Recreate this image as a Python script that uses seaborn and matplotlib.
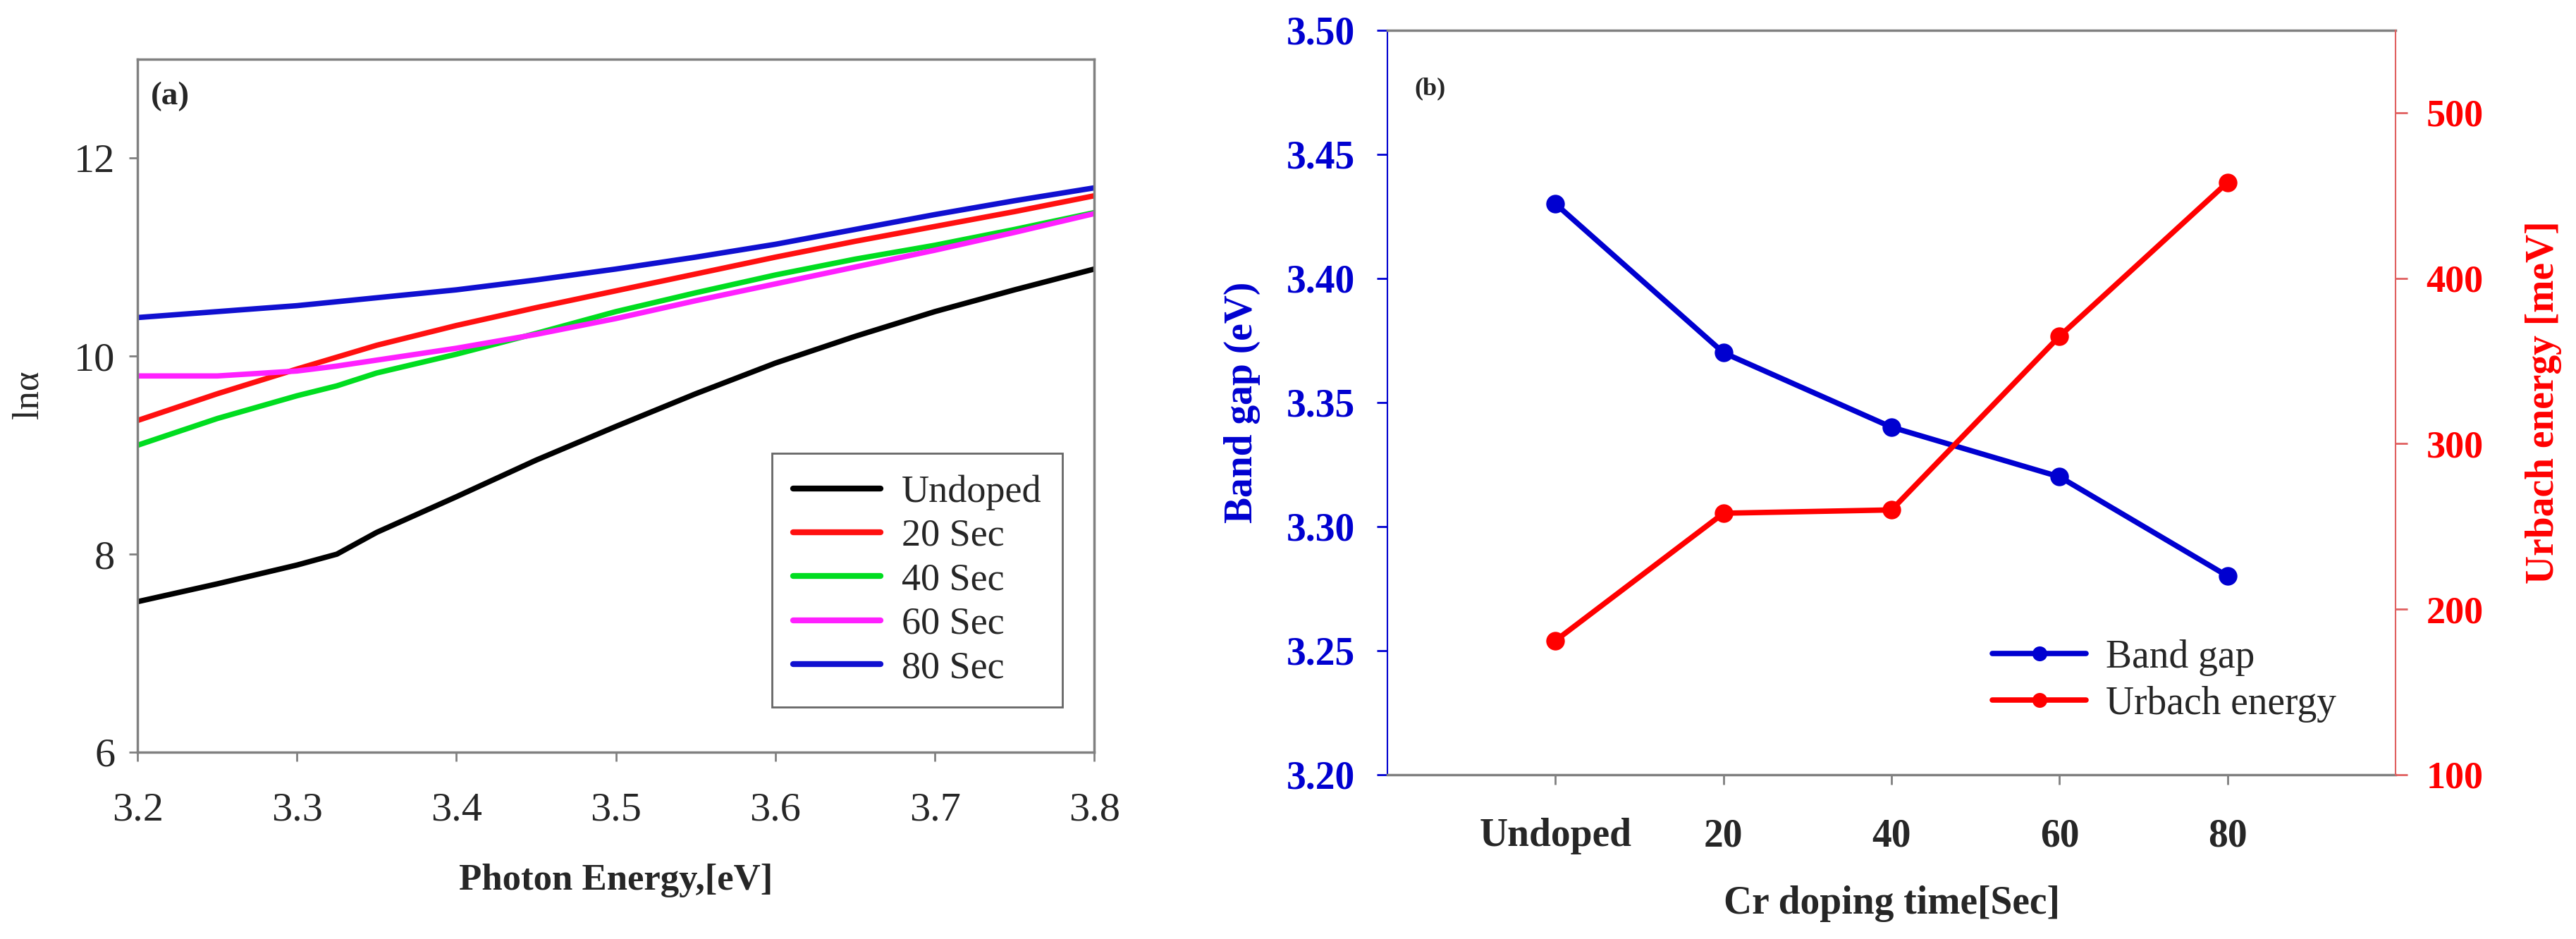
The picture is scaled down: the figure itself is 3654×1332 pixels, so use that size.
import numpy as np
import matplotlib
matplotlib.use('Agg')
import matplotlib.pyplot as plt
import pandas as pd
import seaborn as sns

# (a) ln(alpha) contro energia del fotone
energy = [3.20, 3.25, 3.30, 3.325, 3.35, 3.40, 3.45, 3.50, 3.55, 3.60, 3.65, 3.70, 3.75, 3.80]
ln_undoped = [7.52, 7.70, 7.89, 8.00, 8.22, 8.58, 8.95, 9.29, 9.62, 9.93, 10.20, 10.45, 10.67, 10.88]
ln_20 = [9.35, 9.62, 9.87, 9.99, 10.11, 10.31, 10.49, 10.66, 10.83, 11.00, 11.16, 11.31, 11.46, 11.62]
ln_40 = [9.10, 9.37, 9.60, 9.70, 9.83, 10.02, 10.23, 10.45, 10.64, 10.82, 10.98, 11.12, 11.28, 11.45]
ln_60 = [9.80, 9.80, 9.85, 9.90, 9.96, 10.08, 10.22, 10.38, 10.56, 10.73, 10.90, 11.07, 11.25, 11.44]
ln_80 = [10.39, 10.45, 10.51, 10.55, 10.59, 10.67, 10.77, 10.88, 11.00, 11.13, 11.28, 11.43, 11.57, 11.70]
series_names = ['Undoped', '20 Sec', '40 Sec', '60 Sec', '80 Sec']
series_colors = ['#000000', '#ff1010', '#00dd20', '#ff20ff', '#1010d0']

# (b) band gap e energia di Urbach
doping_labels = ['Undoped', '20', '40', '60', '80']
doping_time = [0, 20, 40, 60, 80]
band_gap = [3.43, 3.37, 3.34, 3.32, 3.28]
urbach = [181, 258, 260, 365, 458]

sns.set_theme(style='ticks')
plt.rcParams['font.family'] = ['Liberation Serif', 'DejaVu Serif']

GREY = '#808080'
BLUE = '#0000d0'
RED = '#ff0000'

df = pd.DataFrame({
    'energy': energy * len(series_names),
    'ln': ln_undoped + ln_20 + ln_40 + ln_60 + ln_80,
    'sample': np.repeat(series_names, len(energy)),
})

fig = plt.figure(figsize=(36.54, 13.32), dpi=100)
ax1 = fig.add_axes([0.0534, 0.199, 0.3714, 0.738])
ax2 = fig.add_axes([0.5386, 0.175, 0.3914, 0.793])

# ---- pannello (a)
sns.lineplot(data=df, x='energy', y='ln', hue='sample', hue_order=series_names,
             palette=dict(zip(series_names, series_colors)), lw=5.5, ax=ax1)
ax1.set_xlim(3.2, 3.8)
ax1.set_ylim(6, 13)
ax1.set_xticks(np.arange(3.2, 3.81, 0.1))
ax1.set_xticklabels([f'{v:.1f}' for v in np.arange(3.2, 3.81, 0.1)])
ax1.set_yticks([6, 8, 10, 12])
for s in ax1.spines.values():
    s.set_color(GREY)
    s.set_linewidth(2.5)
ax1.tick_params(axis='both', direction='out', length=9, width=2, color=GREY, labelsize=42)
ax1.tick_params(axis='x', pad=32)
ax1.tick_params(axis='y', pad=14)
ax1.set_xlabel('Photon Energy,[eV]', fontsize=38, weight='bold')
ax1.set_ylabel('lnα', fontsize=38)
ax1.xaxis.set_label_coords(0.5, -0.185)
ax1.xaxis.label.set_va('center')
ax1.yaxis.set_label_coords(-0.114, 0.516)
ax1.yaxis.label.set_va('center')
ax1.text(0.014, 0.968, '(a)', transform=ax1.transAxes, ha='left', va='top',
         fontsize=34, weight='bold')
leg = ax1.legend(loc='lower right', bbox_to_anchor=(0.967, 0.065), borderaxespad=0,
                 fontsize=39, frameon=True, fancybox=False, handlelength=2.3,
                 handletextpad=0.55, labelspacing=0.22, borderpad=0.55)
leg.get_frame().set_edgecolor('#404040')
leg.get_frame().set_linewidth(2)
for line in leg.get_lines():
    line.set_linewidth(6)

# ---- pannello (b)
sns.lineplot(x=doping_time, y=band_gap, ax=ax2, color=BLUE, lw=5.5, marker='o',
             markersize=19, markeredgewidth=0, label='Band gap', legend=False)
ax3 = ax2.twinx()
sns.lineplot(x=doping_time, y=urbach, ax=ax3, color=RED, lw=5.5, marker='o',
             markersize=19, markeredgewidth=0, label='Urbach energy', legend=False)

ax2.set_xlim(-20, 100)
ax2.set_xticks(doping_time)
ax2.set_xticklabels(doping_labels)
ax2.set_ylim(3.20, 3.50)
ax2.set_yticks(np.arange(3.20, 3.501, 0.05))
ax2.set_yticklabels([f'{v:.2f}' for v in np.arange(3.20, 3.501, 0.05)])
ax3.set_ylim(100, 550)
ax3.set_yticks([100, 200, 300, 400, 500])

for name in ['top', 'bottom']:
    ax2.spines[name].set_color(GREY)
    ax2.spines[name].set_linewidth(2.5)
ax2.spines['left'].set_color(BLUE)
ax2.spines['left'].set_linewidth(1.5)
ax2.spines['right'].set_visible(False)
for name in ['top', 'bottom', 'left']:
    ax3.spines[name].set_visible(False)
ax3.spines['right'].set_color('#e06060')
ax3.spines['right'].set_linewidth(1.5)

ax2.tick_params(axis='x', direction='out', length=10, width=2, color=GREY,
                labelsize=40, pad=34)
ax2.tick_params(axis='y', direction='out', length=11, width=2, color=BLUE,
                labelcolor=BLUE, labelsize=40, pad=22)
ax3.tick_params(axis='y', direction='out', length=12, width=2, color='#e06060',
                labelcolor=RED, labelsize=39, pad=19)
for lab in ax2.get_xticklabels() + ax2.get_yticklabels() + ax3.get_yticklabels():
    lab.set_fontweight('bold')

ax2.set_xlabel('Cr doping time[Sec]', fontsize=40, weight='bold')
ax2.xaxis.set_label_coords(0.5, -0.173)
ax2.xaxis.label.set_va('center')
ax2.set_ylabel('Band gap (eV)', fontsize=40, weight='bold', color=BLUE)
ax2.yaxis.set_label_coords(-0.144, 0.5)
ax2.yaxis.label.set_va('center')
ax3.set_ylabel('Urbach energy [meV]', fontsize=40, weight='bold', color=RED)
ax3.yaxis.set_label_coords(1.147, 0.5)
ax3.yaxis.label.set_va('center')
ax2.text(0.027, 0.937, '(b)', transform=ax2.transAxes, ha='left', va='top',
         fontsize=26, weight='bold')

handles = ax2.get_lines()[:1] + ax3.get_lines()[:1]
ax3.legend(handles, ['Band gap', 'Urbach energy'], loc='center left',
           bbox_to_anchor=(0.60, 0.126), borderaxespad=0, borderpad=0,
           frameon=False, fontsize=40, handlelength=2.4, handletextpad=0.5,
           labelspacing=0.25, markerscale=0.8)

fig.savefig('out.png', dpi=100)
